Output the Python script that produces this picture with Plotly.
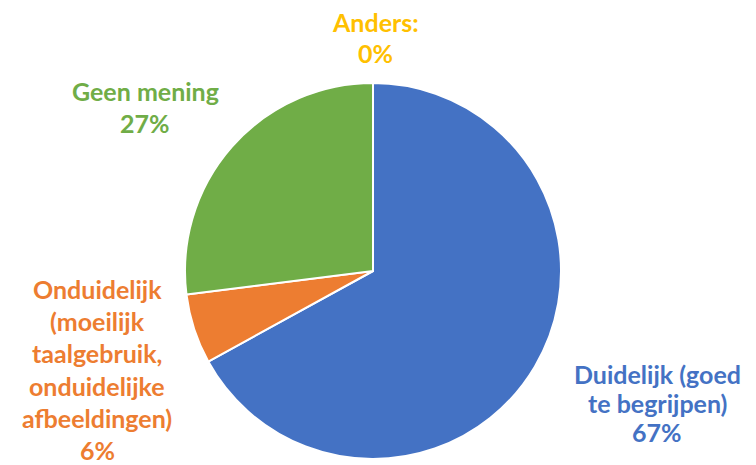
import plotly.graph_objects as go

labels = ["Duidelijk (goed te begrijpen)", "Onduidelijk (moeilijk taalgebruik, onduidelijke afbeeldingen)", "Geen mening", "Anders:"]
label_lines = [
    ["Duidelijk (goed", "te begrijpen)"],
    ["Onduidelijk", "(moeilijk", "taalgebruik,", "onduidelijke", "afbeeldingen)"],
    ["Geen mening"],
    ["Anders:"],
]
values = [67, 6, 27, 0]
colors = ["#4472C4", "#ED7D31", "#70AD47", "#FFC000"]
# label anchor centres (pixels in 756x465 view): x, y of first line
label_pos = [(657, 374), (97, 289), (145, 91), (375, 22)]
line_gap = [29, 32.2, 32, 31]

W, H = 756, 465
OFF = 8  # page body margin


def px_x(x):
    return (x - OFF) / W


def px_y(y):
    return 1 - (y - OFF) / H


fig = go.Figure(go.Pie(
    labels=labels, values=values, sort=False, direction="clockwise", rotation=0,
    marker=dict(colors=colors, line=dict(color="white", width=2)),
    textinfo="none", hoverinfo="label+percent", showlegend=False,
    domain=dict(x=[px_x(185), px_x(561)], y=[px_y(459), px_y(83)]),
))

total = sum(values)
annotations = []
for lines, v, c, (px, py), gap in zip(label_lines, values, colors, label_pos, line_gap):
    all_lines = lines + [f"{round(100 * v / total)}%"]
    for i, t in enumerate(all_lines):
        annotations.append(dict(
            text=f"<b>{t}</b>", x=px_x(px), y=px_y(py + i * gap), xref="paper", yref="paper",
            showarrow=False, xanchor="center", yanchor="middle",
            font=dict(family="Lato", size=25, color=c),
        ))

fig.update_layout(
    width=W, height=H, margin=dict(l=0, r=0, t=0, b=0),
    paper_bgcolor="white", plot_bgcolor="white", annotations=annotations,
)
fig.write_html("out.html")
